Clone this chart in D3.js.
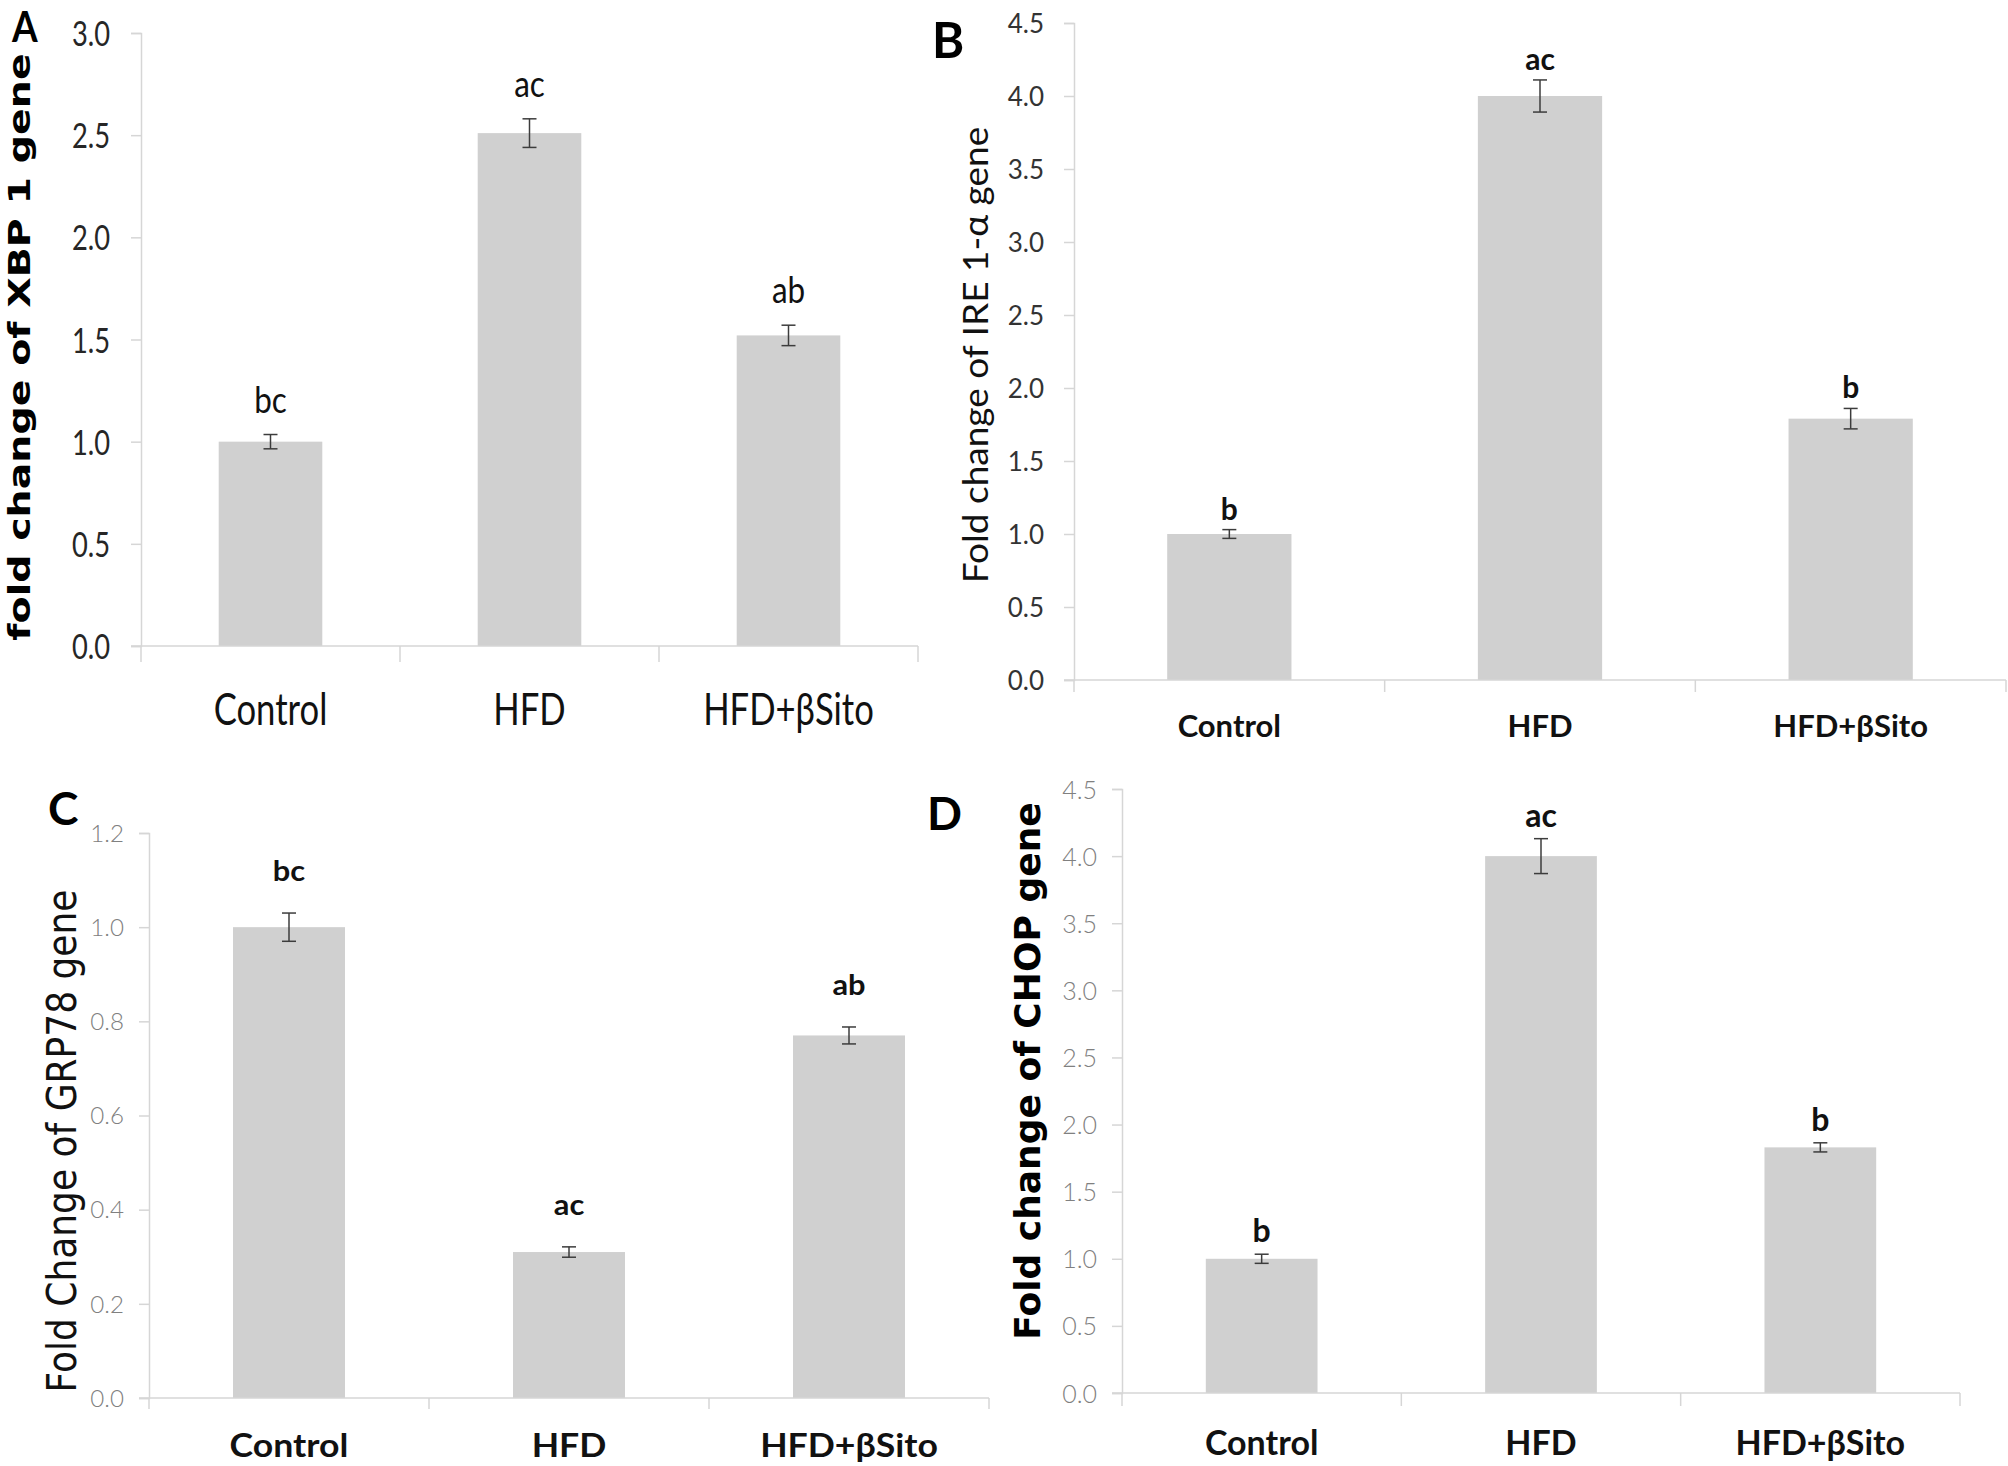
<!DOCTYPE html>
<html>
<head>
<meta charset="utf-8">
<script src="https://cdn.jsdelivr.net/npm/d3@7"></script>
<style>
  html, body { margin: 0; padding: 0; background: #fff; }
  svg { display: block; }
</style>
</head>
<body>
<svg id="chart" width="2008" height="1466"></svg>
<script>
// ---------------- DATA ----------------
const categories = ["Control", "HFD", "HFD+βSito"];

const xbp1Values  = [1.00, 2.51, 1.52];
const xbp1Errors  = [0.035, 0.07, 0.05];
const xbp1Letters = ["bc", "ac", "ab"];
const xbp1Ticks   = [0, 0.5, 1.0, 1.5, 2.0, 2.5, 3.0];

const ire1Values  = [1.00, 4.00, 1.79];
const ire1Errors  = [0.03, 0.11, 0.07];
const ire1Letters = ["b", "ac", "b"];
const ire1Ticks   = [0, 0.5, 1.0, 1.5, 2.0, 2.5, 3.0, 3.5, 4.0, 4.5];

const grp78Values  = [1.00, 0.31, 0.77];
const grp78Errors  = [0.03, 0.011, 0.018];
const grp78Letters = ["bc", "ac", "ab"];
const grp78Ticks   = [0, 0.2, 0.4, 0.6, 0.8, 1.0, 1.2];

const chopValues  = [1.00, 4.00, 1.83];
const chopErrors  = [0.034, 0.13, 0.034];
const chopLetters = ["b", "ac", "b"];
const chopTicks   = [0, 0.5, 1.0, 1.5, 2.0, 2.5, 3.0, 3.5, 4.0, 4.5];

const panelLabels = ["A", "B", "C", "D"];
const yTitles = [
  "fold change of XBP 1 gene",
  "Fold change of IRE 1-α gene",
  "Fold Change of GRP78 gene",
  "Fold change of CHOP gene"
];

// ---------------- LAYOUT / STYLE ----------------
const svg = d3.select("#chart");
const BAR = "#d0d0d0", AXIS = "#d6d6d6", ERR = "#3c3c3c";

const panels = [
  { values: xbp1Values, errors: xbp1Errors, letters: xbp1Letters, ticks: xbp1Ticks,
    label: panelLabels[0], title: yTitles[0],
    x0: 141, x1: 918, yTop: 33, yBot: 646, yMax: 3.0, tickLen: 10, catTick: 16,
    tick: { font: "Lato", size: 35, weight: 400, color: "#262626", sx: 0.78, right: 110 },
    cat:  { font: "Lato", size: 45, weight: 400, color: "#111", sx: 0.77, off: 79 },
    sig:  { font: "Lato", size: 37, weight: 400, color: "#111", sx: 0.85, gap: 22 },
    ttl:  { font: "DejaVu Sans", size: 39.5, weight: 700, color: "#000", x: 30, cy: 347, sy: 0.78 },
    pl:   { size: 42, x: 12, y: 42, sx: 0.88 } },
  { values: ire1Values, errors: ire1Errors, letters: ire1Letters, ticks: ire1Ticks,
    label: panelLabels[1], title: yTitles[1],
    x0: 1074, x1: 2006, yTop: 23, yBot: 680, yMax: 4.5, tickLen: 10, catTick: 12,
    tick: { font: "Lato", size: 26, weight: 400, color: "#333", sx: 1, right: 1044 },
    cat:  { font: "Lato", size: 31, weight: 700, color: "#111", sx: 1, off: 57 },
    sig:  { font: "Lato", size: 30, weight: 700, color: "#111", sx: 1, gap: 10 },
    ttl:  { font: "Lato", size: 37, weight: 400, color: "#111", x: 988, cy: 355, sy: 0.92 },
    pl:   { size: 49, x: 932, y: 58, sx: 1 } },
  { values: grp78Values, errors: grp78Errors, letters: grp78Letters, ticks: grp78Ticks,
    label: panelLabels[2], title: yTitles[2],
    x0: 149, x1: 989, yTop: 833, yBot: 1398, yMax: 1.2, tickLen: 10, catTick: 11,
    tick: { font: "Lato", size: 23, weight: 300, color: "#808080", sx: 1.05, right: 124 },
    cat:  { font: "Lato", size: 33, weight: 700, color: "#111", sx: 1.08, off: 59 },
    sig:  { font: "Lato", size: 28, weight: 700, color: "#111", sx: 1.1, gap: 32 },
    ttl:  { font: "DejaVu Sans", size: 36, weight: 400, color: "#111", x: 76, cy: 1141, sy: 1.12 },
    pl:   { size: 46, x: 48, y: 825, sx: 1 } },
  { values: chopValues, errors: chopErrors, letters: chopLetters, ticks: chopTicks,
    label: panelLabels[3], title: yTitles[3],
    x0: 1122, x1: 1960, yTop: 789, yBot: 1393, yMax: 4.5, tickLen: 10, catTick: 13,
    tick: { font: "Lato", size: 25, weight: 300, color: "#808080", sx: 1, right: 1097 },
    cat:  { font: "Lato", size: 34, weight: 700, color: "#111", sx: 1, off: 62 },
    sig:  { font: "Lato", size: 32, weight: 700, color: "#111", sx: 1, gap: 12 },
    ttl:  { font: "DejaVu Sans", size: 36, weight: 700, color: "#000", x: 1040, cy: 1071, sy: 1 },
    pl:   { size: 46, x: 927, y: 830, sx: 1 } }
];

function drawPanel(p) {
  const g = svg.append("g");
  const x = d3.scaleBand().domain(categories).range([p.x0, p.x1])
    .paddingInner(0.6).paddingOuter(0.3);
  const y = d3.scaleLinear().domain([0, p.yMax]).range([p.yBot, p.yTop]);
  const data = categories.map((c, i) => ({ c, v: p.values[i], e: p.errors[i], l: p.letters[i] }));

  // y axis
  const yAxis = d3.axisLeft(y).tickValues(p.ticks).tickSize(p.tickLen)
    .tickFormat(d3.format(".1f"));
  const ya = g.append("g").attr("transform", `translate(${p.x0},0)`).call(yAxis);
  ya.select(".domain").attr("stroke", AXIS).attr("stroke-width", 1.5);
  ya.selectAll(".tick line").attr("stroke", AXIS).attr("stroke-width", 1.5);
  ya.selectAll(".tick text")
    .attr("x", null).attr("dy", "0.36em")
    .attr("transform", `translate(${p.tick.right - p.x0},0) scale(${p.tick.sx},1)`)
    .attr("font-family", p.tick.font).attr("font-size", p.tick.size)
    .attr("font-weight", p.tick.weight).attr("fill", p.tick.color)
    .attr("text-anchor", "end");

  // bars
  g.selectAll("rect.bar").data(data).join("rect").attr("class", "bar")
    .attr("x", d => x(d.c)).attr("width", x.bandwidth())
    .attr("y", d => y(d.v)).attr("height", d => y(0) - y(d.v))
    .attr("fill", BAR);

  // x axis line + category separators
  const step = x.step();
  const bounds = [0, 1, 2, 3].map(k => p.x0 + k * step);
  g.append("line").attr("x1", p.x0 - p.tickLen).attr("x2", p.x1)
    .attr("y1", y(0)).attr("y2", y(0)).attr("stroke", AXIS).attr("stroke-width", 1.5);
  g.selectAll("line.sep").data(bounds).join("line").attr("class", "sep")
    .attr("x1", d => d).attr("x2", d => d)
    .attr("y1", y(0)).attr("y2", y(0) + p.catTick)
    .attr("stroke", AXIS).attr("stroke-width", 1.5);

  // category labels
  const xa = g.append("g").attr("transform", `translate(0,${y(0)})`)
    .call(d3.axisBottom(x).tickSize(0).tickPadding(0));
  xa.select(".domain").remove();
  xa.selectAll(".tick text")
    .attr("y", null).attr("dy", null)
    .attr("transform", `translate(0,${p.cat.off}) scale(${p.cat.sx},1)`)
    .attr("font-family", p.cat.font).attr("font-size", p.cat.size)
    .attr("font-weight", p.cat.weight).attr("fill", p.cat.color);

  // error bars
  const cap = 7;
  const eg = g.selectAll("g.err").data(data).join("g").attr("class", "err")
    .attr("stroke", ERR).attr("stroke-width", 1.5);
  eg.append("line")
    .attr("x1", d => x(d.c) + x.bandwidth() / 2).attr("x2", d => x(d.c) + x.bandwidth() / 2)
    .attr("y1", d => y(d.v + d.e)).attr("y2", d => y(d.v - d.e));
  eg.append("line")
    .attr("x1", d => x(d.c) + x.bandwidth() / 2 - cap).attr("x2", d => x(d.c) + x.bandwidth() / 2 + cap)
    .attr("y1", d => y(d.v + d.e)).attr("y2", d => y(d.v + d.e));
  eg.append("line")
    .attr("x1", d => x(d.c) + x.bandwidth() / 2 - cap).attr("x2", d => x(d.c) + x.bandwidth() / 2 + cap)
    .attr("y1", d => y(d.v - d.e)).attr("y2", d => y(d.v - d.e));

  // significance letters
  g.selectAll("text.sig").data(data).join("text").attr("class", "sig")
    .attr("transform", d => `translate(${x(d.c) + x.bandwidth() / 2},${y(d.v + d.e) - p.sig.gap}) scale(${p.sig.sx},1)`)
    .attr("text-anchor", "middle")
    .attr("font-family", p.sig.font).attr("font-size", p.sig.size)
    .attr("font-weight", p.sig.weight).attr("fill", p.sig.color)
    .text(d => d.l);

  // y title
  g.append("text")
    .attr("transform", `translate(${p.ttl.x},${p.ttl.cy}) rotate(-90) scale(1,${p.ttl.sy})`)
    .attr("text-anchor", "middle")
    .attr("font-family", p.ttl.font).attr("font-size", p.ttl.size)
    .attr("font-weight", p.ttl.weight).attr("fill", p.ttl.color)
    .text(p.title);

  // panel letter
  g.append("text")
    .attr("transform", `translate(${p.pl.x},${p.pl.y}) scale(${p.pl.sx},1)`)
    .attr("font-family", "Lato").attr("font-size", p.pl.size)
    .attr("font-weight", 700).attr("fill", "#000")
    .text(p.label);
}

panels.forEach(drawPanel);
</script>
</body>
</html>
